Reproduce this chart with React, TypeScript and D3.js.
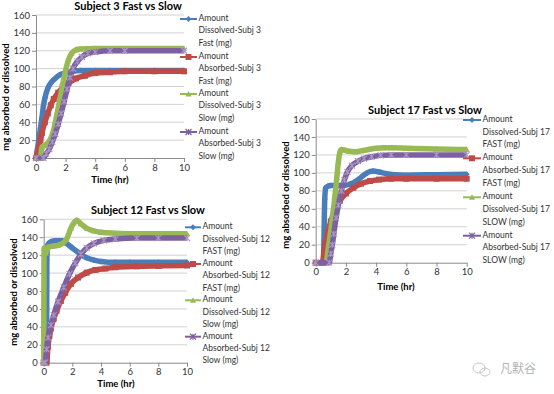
import { useEffect, useRef } from "react";
import * as d3 from "d3";

const timeTicks = [0, 2, 4, 6, 8, 10];
const amountTicks = [0, 20, 40, 60, 80, 100, 120, 140, 160];

// Subject 3
const s3DissFastT = [0, 0.1, 0.2, 0.3, 0.4, 0.5, 0.6, 0.8, 1.0, 1.3, 1.6, 2.0, 2.5, 3, 4, 5, 6, 8, 10];
const s3DissFast = [0, 10, 22, 33, 45, 58, 67, 78, 84, 89, 93, 95, 97, 98, 98, 98, 98, 98, 98];
const s3AbsFastT = [0, 0.1, 0.2, 0.3, 0.4, 0.6, 0.8, 1.0, 1.2, 1.5, 1.8, 2.2, 2.7, 3.3, 4, 5, 6, 8, 10];
const s3AbsFast = [0, 5, 12, 20, 28, 40, 50, 59, 66, 73, 79, 84, 89, 92, 95, 96, 97, 97, 97];
const s3DissSlowT = [0, 0.3, 0.4, 0.6, 0.8, 1.0, 1.2, 1.4, 1.6, 1.8, 2.0, 2.2, 2.4, 2.7, 3, 4, 6, 10];
const s3DissSlow = [0, 0, 12, 14, 17, 22, 32, 48, 64, 82, 98, 110, 117, 121, 122, 122.5, 122.5, 122.5];
const s3AbsSlowT = [0, 0.5, 0.7, 0.9, 1.1, 1.3, 1.5, 1.7, 1.9, 2.1, 2.3, 2.5, 2.8, 3.1, 3.5, 4, 5, 6, 10];
const s3AbsSlow = [0, 0, 5, 10, 18, 27, 38, 50, 63, 77, 90, 100, 108, 113, 117, 118.5, 120, 120, 120];

// Subject 12
const s12DissFastT = [0, 0.2, 0.22, 0.3, 0.5, 0.8, 1.0, 1.3, 1.6, 2.0, 2.5, 3, 3.5, 4, 5, 6, 8, 10];
const s12DissFast = [0, 0, 115, 132, 135, 136, 136, 136, 133, 128, 122, 117, 114.5, 113, 112, 112, 112, 112];
const s12AbsFastT = [0, 0.2, 0.3, 0.4, 0.5, 0.7, 0.9, 1.2, 1.5, 1.9, 2.4, 3, 3.6, 4.3, 5, 6.5, 8, 10];
const s12AbsFast = [0, 0, 18, 30, 38, 49, 58, 69, 78, 88, 95, 100.5, 103.5, 105, 106.5, 107.5, 108, 108.5];
const s12DissSlowT = [0, 0.03, 0.15, 0.3, 0.6, 1.0, 1.3, 1.6, 1.9, 2.1, 2.3, 2.6, 3.0, 3.5, 4, 5, 6, 8, 10];
const s12DissSlow = [0, 128, 122, 129, 130, 131, 133, 138, 150, 156, 159, 155, 150, 147, 145.5, 144.5, 144, 144, 144];
const s12AbsSlowT = [0, 0.1, 0.2, 0.3, 0.5, 0.7, 1.0, 1.4, 1.8, 2.2, 2.6, 3.0, 3.5, 4.2, 5, 6.5, 8, 10];
const s12AbsSlow = [0, 0, 15, 28, 42, 53, 68, 84, 99, 111, 121, 128, 133, 136.5, 138, 139, 139, 139];

// Subject 17
const s17DissFastT = [0, 0.5, 0.6, 0.65, 0.8, 1.0, 1.5, 2.0, 2.5, 3.0, 3.4, 3.8, 4.2, 4.7, 5.2, 6, 8, 10];
const s17DissFast = [0, 0, 71, 83, 85, 86, 86, 86.5, 89, 95, 100, 102, 101, 99, 98, 97.5, 98, 98.5];
const s17AbsFastT = [0, 0.45, 0.55, 0.65, 0.8, 1.0, 1.3, 1.6, 2.0, 2.5, 3.0, 3.6, 4.2, 5, 6, 8, 10];
const s17AbsFast = [0, 0, 12, 22, 34, 46, 60, 69, 77, 83.5, 88, 91, 92.5, 93.5, 93.5, 93.5, 93.5];
const s17DissSlowT = [0, 0.7, 0.8, 0.9, 1.0, 1.1, 1.2, 1.3, 1.4, 1.5, 1.6, 1.7, 1.9, 2.2, 2.6, 3, 3.5, 4, 4.5, 5, 6, 8, 10];
const s17DissSlow = [0, 0, 12, 24, 36, 50, 63, 78, 95, 112, 123, 126, 125.5, 124, 123.5, 124.5, 126, 127.5, 128, 128, 127.5, 126.5, 126];
const s17AbsSlowT = [0, 0.9, 1.0, 1.1, 1.2, 1.35, 1.5, 1.7, 1.9, 2.1, 2.4, 2.8, 3.2, 3.7, 4.3, 5, 6, 8, 10];
const s17AbsSlow = [0, 0, 10, 20, 32, 50, 64, 80, 92, 101, 108, 113, 116, 118, 119.5, 120, 120, 120, 120];

const colors = ["#4a7ebb", "#be4b48", "#98b954", "#7d60a0"];
const FONT = "Lato, 'Open Sans', sans-serif";

type Series = { t: number[]; y: number[]; label: string[] };

function markerPath(kind: number, s: number) {
  if (kind === 0) return `M0,${-s}L${s},0L0,${s}L${-s},0Z`;
  if (kind === 1) return `M${-s},${-s}H${s}V${s}H${-s}Z`;
  if (kind === 2) return `M0,${-s}L${s},${s * 0.8}H${-s}Z`;
  return `M${-s},${-s}L${s},${s}M${-s},${s}L${s},${-s}M0,${-s}V${s}`;
}

function Chart({ title, series, L }: { title: string; series: Series[]; L: any }) {
  const ref = useRef<SVGGElement>(null);
  useEffect(() => {
    const g = d3.select(ref.current);
    g.selectAll("*").remove();
    const x = d3.scaleLinear().domain([0, 10]).range([L.x0, L.x1]);
    const y = d3.scaleLinear().domain([0, 160]).range([L.y0, L.y1]);

    g.append("g")
      .selectAll("line")
      .data(amountTicks.slice(1))
      .join("line")
      .attr("x1", L.x0)
      .attr("x2", L.x1)
      .attr("y1", (d) => y(d))
      .attr("y2", (d) => y(d))
      .attr("stroke", "#d2d2d2");

    const yAxis = g
      .append("g")
      .attr("transform", `translate(${L.x0},0)`)
      .call(d3.axisLeft(y).tickValues(amountTicks).tickSize(4).tickSizeOuter(0).tickPadding(2));
    const xAxis = g
      .append("g")
      .attr("transform", `translate(0,${L.y0})`)
      .call(d3.axisBottom(x).tickValues(timeTicks).tickSize(4).tickSizeOuter(0).tickPadding(2));
    [yAxis, xAxis].forEach((a) => {
      a.select(".domain").attr("stroke", "#8a8a8a");
      a.selectAll(".tick line").attr("stroke", "#8a8a8a");
      a.selectAll(".tick text").attr("fill", "#333").attr("font-size", 9.5).attr("font-family", FONT);
    });

    series.forEach((s, k) => {
      const ln = d3
        .line<number>()
        .x((_, i) => x(s.t[i]))
        .y((v) => y(v))
        .curve(d3.curveMonotoneX);
      g.append("path")
        .attr("d", ln(s.y))
        .attr("fill", "none")
        .attr("stroke", colors[k])
        .attr("stroke-width", 5.5)
        .attr("stroke-linejoin", "round");
      g.append("g")
        .selectAll("path")
        .data(s.y)
        .join("path")
        .attr("transform", (v, i) => `translate(${x(s.t[i])},${y(v)})`)
        .attr("d", markerPath(k, 3))
        .attr("fill", k === 3 ? "none" : colors[k])
        .attr("stroke", k === 3 ? "#a996c4" : "none")
        .attr("stroke-width", 1.1);
    });

    g.append("text")
      .attr("x", L.titleX)
      .attr("y", L.titleY)
      .attr("text-anchor", "middle")
      .attr("dominant-baseline", "middle")
      .attr("font-weight", "bold")
      .attr("font-size", 11)
      .attr("font-family", FONT)
      .text(title);
    g.append("text")
      .attr("transform", `translate(${L.yTitleX},${L.yTitleY}) rotate(-90)`)
      .attr("text-anchor", "middle")
      .attr("dominant-baseline", "middle")
      .attr("font-weight", "bold")
      .attr("font-size", 9.5)
      .attr("font-family", FONT)
      .text("mg absorbed or dissolved");
    g.append("text")
      .attr("x", L.xTitleX)
      .attr("y", L.xTitleY)
      .attr("text-anchor", "middle")
      .attr("dominant-baseline", "middle")
      .attr("font-weight", "bold")
      .attr("font-size", 9.5)
      .attr("font-family", FONT)
      .text("Time (hr)");

    series.forEach((s, k) => {
      const ly = L.legendY[k];
      const lg = g.append("g");
      lg.append("line")
        .attr("x1", L.lx0)
        .attr("x2", L.lx1)
        .attr("y1", ly)
        .attr("y2", ly)
        .attr("stroke", colors[k])
        .attr("stroke-width", 2);
      lg.append("path")
        .attr("transform", `translate(${(L.lx0 + L.lx1) / 2},${ly})`)
        .attr("d", markerPath(k, 3))
        .attr("fill", k === 3 ? "none" : colors[k])
        .attr("stroke", k === 3 ? colors[k] : "none")
        .attr("stroke-width", 1.2);
      s.label.forEach((t, j) =>
        lg
          .append("text")
          .attr("x", L.lx1 + 1.5)
          .attr("y", ly + j * L.lineH)
          .attr("dominant-baseline", "middle")
          .attr("font-size", 8.5)
          .attr("fill", "#333")
          .attr("font-family", FONT)
          .text(t)
      );
    });
  }, [series, L, title]);
  return <g ref={ref} />;
}

const subj3: Series[] = [
  { t: s3DissFastT, y: s3DissFast, label: ["Amount", "Dissolved-Subj 3", "Fast (mg)"] },
  { t: s3AbsFastT, y: s3AbsFast, label: ["Amount", "Absorbed-Subj 3", "Fast (mg)"] },
  { t: s3DissSlowT, y: s3DissSlow, label: ["Amount", "Dissolved-Subj 3", "Slow (mg)"] },
  { t: s3AbsSlowT, y: s3AbsSlow, label: ["Amount", "Absorbed-Subj 3", "Slow (mg)"] },
];
const subj12: Series[] = [
  { t: s12DissFastT, y: s12DissFast, label: ["Amount", "Dissolved-Subj 12", "FAST (mg)"] },
  { t: s12AbsFastT, y: s12AbsFast, label: ["Amount", "Absorbed-Subj 12", "FAST (mg)"] },
  { t: s12DissSlowT, y: s12DissSlow, label: ["Amount", "Dissolved-Subj 12", "Slow (mg)"] },
  { t: s12AbsSlowT, y: s12AbsSlow, label: ["Amount", "Absorbed-Subj 12", "Slow (mg)"] },
];
const subj17: Series[] = [
  { t: s17DissFastT, y: s17DissFast, label: ["Amount", "Dissolved-Subj 17", "FAST (mg)"] },
  { t: s17AbsFastT, y: s17AbsFast, label: ["Amount", "Absorbed-Subj 17", "FAST (mg)"] },
  { t: s17DissSlowT, y: s17DissSlow, label: ["Amount", "Dissolved-Subj 17", "SLOW (mg)"] },
  { t: s17AbsSlowT, y: s17AbsSlow, label: ["Amount", "Absorbed-Subj 17", "SLOW (mg)"] },
];

const layout3 = {
  x0: 36, x1: 184, y0: 158, y1: 15,
  titleX: 128, titleY: 7, yTitleX: 7, yTitleY: 97, xTitleX: 110, xTitleY: 181,
  lx0: 180, lx1: 197, legendY: [19, 57, 94, 132], lineH: 12.3,
};
const layout12 = {
  x0: 43.7, x1: 187, y0: 362.7, y1: 219.3,
  titleX: 148, titleY: 211, yTitleX: 15, yTitleY: 292, xTitleX: 116, xTitleY: 385,
  lx0: 185, lx1: 201, legendY: [227.3, 264, 300.3, 336.7], lineH: 12.2,
};
const layout17 = {
  x0: 315.7, x1: 466.7, y0: 262.7, y1: 119,
  titleX: 425, titleY: 111, yTitleX: 287, yTitleY: 195, xTitleX: 396, xTitleY: 288,
  lx0: 463, lx1: 481, legendY: [120, 158.3, 197.3, 235.7], lineH: 12.6,
};

export default function App() {
  return (
    <svg
      width={554}
      height={394}
      style={{ position: "absolute", left: 0, top: 0, background: "#fff" }}
    >
      <rect width={554} height={394} fill="#fff" />
      <Chart title="Subject 3 Fast vs Slow" series={subj3} L={layout3} />
      <Chart title="Subject 12 Fast vs Slow" series={subj12} L={layout12} />
      <Chart title="Subject 17 Fast vs Slow" series={subj17} L={layout17} />
      <g stroke="#c8c8c8" fill="none" strokeWidth={1}>
        <ellipse cx={479} cy={368} rx={6} ry={5} />
        <ellipse cx={485} cy={372} rx={5} ry={4} />
      </g>
      <text
        x={500}
        y={370}
        dominantBaseline="middle"
        fontSize={12}
        fill="#b4b4b4"
        fontFamily="'Noto Sans CJK SC', sans-serif"
      >
        凡默谷
      </text>
    </svg>
  );
}
